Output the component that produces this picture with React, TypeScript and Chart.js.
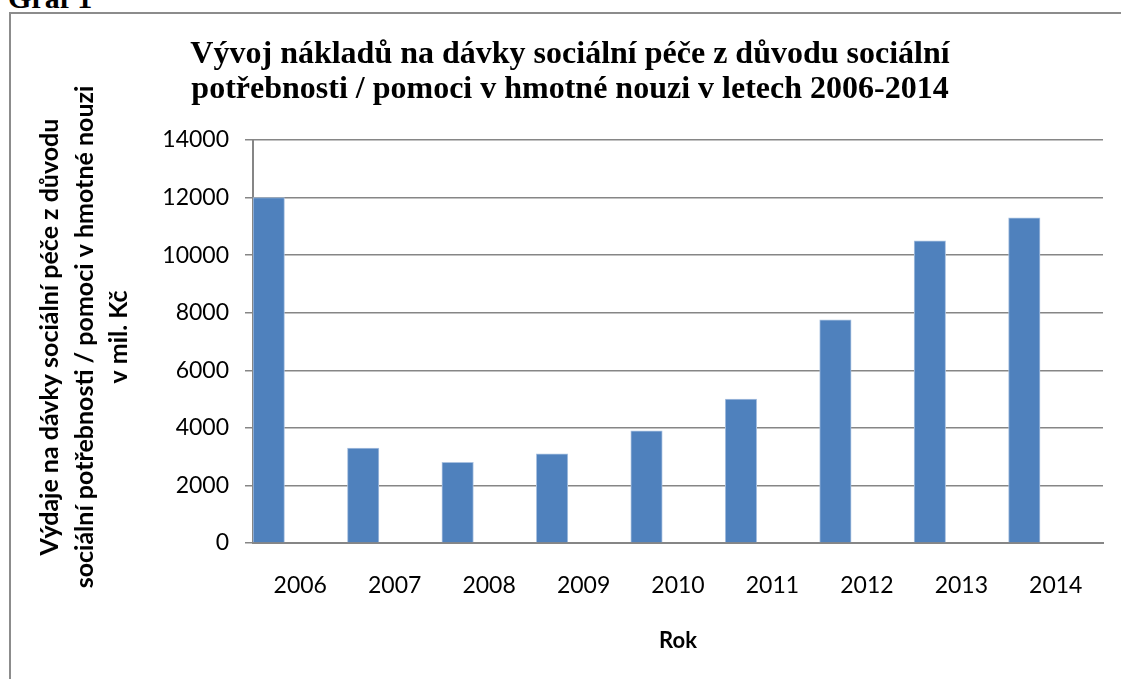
import React, { useEffect, useRef } from "react";
import { Chart, registerables } from "chart.js";

Chart.register(...registerables);

const years = ["2006", "2007", "2008", "2009", "2010", "2011", "2012", "2013", "2014"];
const costs = [12000, 3300, 2800, 3100, 3900, 5000, 7750, 10500, 11300];
const emptySeriesA = [null, null, null, null, null, null, null, null, null];
const emptySeriesB = [null, null, null, null, null, null, null, null, null];
const titleLines = [
  "Vývoj nákladů na dávky sociální péče z důvodu sociální",
  "potřebnosti / pomoci v hmotné nouzi v letech 2006-2014",
];
const yTitleLines = [
  "Výdaje na dávky sociální péče z důvodu",
  "sociální potřebnosti / pomoci v hmotné nouzi",
  "v mil. Kč",
];
const xTitle = "Rok";
const graphLabel = "Graf 1";

const SANS = "Lato";
const SERIF = "'Liberation Serif', 'Times New Roman', serif";
const GRID = "#868686";

const yTitlePlugin = {
  id: "yTitlePlugin",
  afterDraw(chart: any) {
    const ctx = chart.ctx;
    const xs = [50, 85, 119];
    const cy = 337;
    ctx.save();
    ctx.fillStyle = "#000";
    ctx.font = `bold 25px ${SANS}`;
    ctx.textAlign = "center";
    ctx.textBaseline = "middle";
    yTitleLines.forEach((line, i) => {
      ctx.save();
      ctx.translate(xs[i], cy);
      ctx.rotate(-Math.PI / 2);
      ctx.fillText(line, 0, 0);
      ctx.restore();
    });
    ctx.restore();
  },
};

export default function App() {
  const canvasRef = useRef<HTMLCanvasElement | null>(null);

  useEffect(() => {
    const canvas = canvasRef.current;
    if (!canvas) return;
    const chart = new Chart(canvas, {
      type: "bar",
      data: {
        labels: years,
        datasets: [
          {
            label: "Výdaje",
            data: costs,
            backgroundColor: "#4F81BD",
            borderColor: "#A9C1E0",
            borderWidth: 1,
            categoryPercentage: 1,
            barPercentage: 1,
          },
          { label: "", data: emptySeriesA as any, categoryPercentage: 1, barPercentage: 1 },
          { label: "", data: emptySeriesB as any, categoryPercentage: 1, barPercentage: 1 },
        ],
      },
      options: {
        responsive: false,
        animation: false,
        devicePixelRatio: 1,
        layout: { padding: { left: 37, right: 18, top: 0, bottom: 0 } },
        plugins: {
          legend: { display: false },
          tooltip: { enabled: false },
          title: {
            display: true,
            text: titleLines,
            color: "#000",
            font: { family: SERIF, weight: "bold", size: 32, lineHeight: 1.094 },
            padding: { top: 37, bottom: 33 },
          },
        },
        scales: {
          x: {
            grid: { display: false, drawTicks: false },
            border: { display: true, color: GRID, width: 2 },
            ticks: { color: "#000", font: { family: SANS, size: 23 }, padding: 29 },
            title: {
              display: true,
              text: xTitle,
              color: "#000",
              font: { family: SANS, size: 22, weight: "bold" },
              padding: { top: -1, bottom: 25 },
            },
          },
          y: {
            min: 0,
            max: 14000,
            afterFit: (scale: any) => {
              scale.width = 216;
            },
            grid: { color: GRID, lineWidth: 1.5, drawTicks: true, tickLength: 8 },
            border: { display: true, color: GRID, width: 2 },
            ticks: {
              stepSize: 2000,
              color: "#000",
              font: { family: SANS, size: 23 },
              padding: 16,
              callback: (v: any) => String(v),
            },
          },
        },
      },
      plugins: [yTitlePlugin],
    });
    return () => chart.destroy();
  }, []);

  return (
    <div
      style={{
        position: "absolute",
        left: 0,
        top: 0,
        width: 1121,
        height: 679,
        overflow: "hidden",
        background: "#fff",
      }}
    >
      <div
        style={{
          position: "absolute",
          left: 8,
          top: -17,
          font: `bold 30px ${SERIF}`,
          lineHeight: "30px",
          whiteSpace: "nowrap",
          color: "#000",
        }}
      >
        {graphLabel}
      </div>
      <div
        style={{
          position: "absolute",
          left: 9,
          top: 12,
          width: 1300,
          height: 900,
          border: `2px solid #8C8C8C`,
          boxSizing: "border-box",
        }}
      />
      <canvas
        ref={canvasRef}
        width={1121}
        height={679}
        style={{ position: "absolute", left: 0, top: 0, width: 1121, height: 679 }}
      />
    </div>
  );
}
